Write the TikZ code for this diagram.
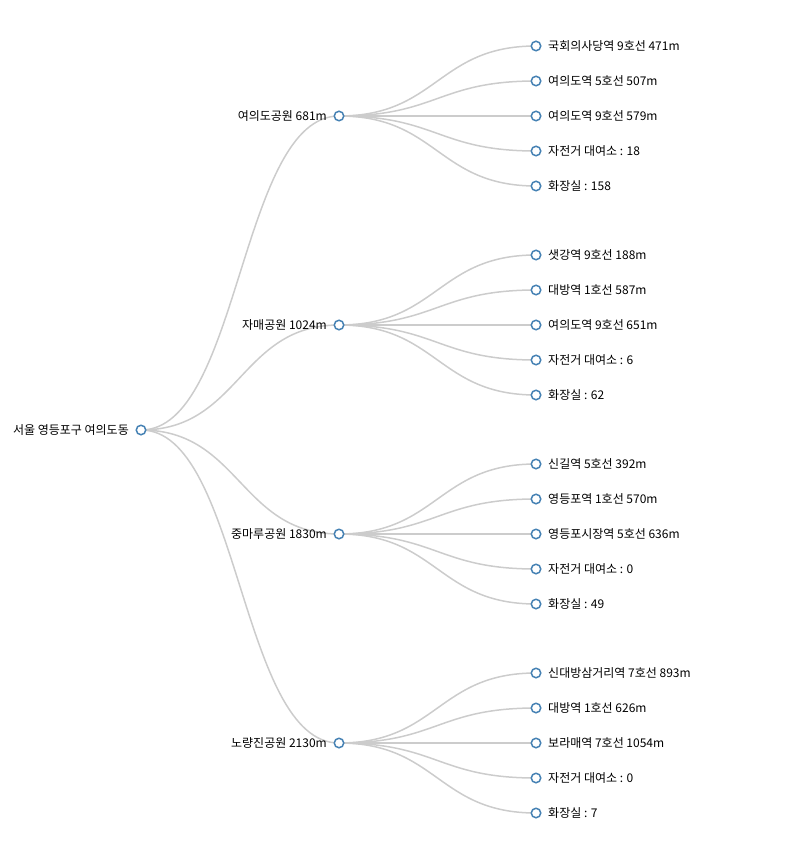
\documentclass[tikz,border=0pt]{standalone}
\usepackage{fontspec}
\setmainfont{Noto Sans CJK KR}
\usepackage{tikz}
\usetikzlibrary{positioning, calc}
\pgfdeclarelayer{background}
\pgfsetlayers{background,main}
\definecolor{steel}{HTML}{4682B4}
\definecolor{linkgray}{HTML}{CCCCCC}
\newcommand{\Link}[2]{%
  \draw[link] let \p1=(#1.center), \p2=(#2.center) in
    (\p1) .. controls ({(\x1+\x2)/2},\y1) and ({(\x1+\x2)/2},\y2) .. (\p2);}
\tikzset{
    dot/.style={circle, draw=steel, fill=white, line width=1.5pt, minimum size=9.5pt, inner sep=0pt},
    link/.style={draw=linkgray, line width=1.5pt},
    every label/.append style={font=\fontsize{12}{14}\selectfont, inner sep=0pt},
}
\begin{document}
\begin{tikzpicture}[x=1pt, y=-1pt]
    \tikzset{
      node distance=35pt,
      on grid,
      label distance=6.5pt
    }
    \useasboundingbox (0,0) rectangle (801,850);

    \node[dot, label=left:서울 영등포구 여의도동] (r) at (141,430) {};

    \node[dot, label=left:여의도공원 681m] (a0) at (339,116) {};
    \node[dot, right=197pt of a0, label=right:여의도역 9호선 579m] (a3) {};
    \node[dot, above=of a3, label=right:여의도역 5호선 507m] (a2) {};
    \node[dot, above=of a2, label=right:국회의사당역 9호선 471m] (a1) {};
    \node[dot, below=of a3, label={right:{자전거 대여소 : 18}}] (a4) {};
    \node[dot, below=of a4, label={right:{화장실 : 158}}] (a5) {};

    \node[dot, label=left:자매공원 1024m] (b0) at (339,325) {};
    \node[dot, right=197pt of b0, label=right:여의도역 9호선 651m] (b3) {};
    \node[dot, above=of b3, label=right:대방역 1호선 587m] (b2) {};
    \node[dot, above=of b2, label=right:샛강역 9호선 188m] (b1) {};
    \node[dot, below=of b3, label={right:{자전거 대여소 : 6}}] (b4) {};
    \node[dot, below=of b4, label={right:{화장실 : 62}}] (b5) {};

    \node[dot, label=left:중마루공원 1830m] (c0) at (339,534) {};
    \node[dot, right=197pt of c0, label=right:영등포시장역 5호선 636m] (c3) {};
    \node[dot, above=of c3, label=right:영등포역 1호선 570m] (c2) {};
    \node[dot, above=of c2, label=right:신길역 5호선 392m] (c1) {};
    \node[dot, below=of c3, label={right:{자전거 대여소 : 0}}] (c4) {};
    \node[dot, below=of c4, label={right:{화장실 : 49}}] (c5) {};

    \node[dot, label=left:노량진공원 2130m] (d0) at (339,743) {};
    \node[dot, right=197pt of d0, label=right:보라매역 7호선 1054m] (d3) {};
    \node[dot, above=of d3, label=right:대방역 1호선 626m] (d2) {};
    \node[dot, above=of d2, label=right:신대방삼거리역 7호선 893m] (d1) {};
    \node[dot, below=of d3, label={right:{자전거 대여소 : 0}}] (d4) {};
    \node[dot, below=of d4, label={right:{화장실 : 7}}] (d5) {};

    \begin{pgfonlayer}{background}
      \Link{r}{a0} \Link{r}{b0} \Link{r}{c0} \Link{r}{d0}
      \Link{a0}{a1} \Link{a0}{a2} \Link{a0}{a3} \Link{a0}{a4} \Link{a0}{a5}
      \Link{b0}{b1} \Link{b0}{b2} \Link{b0}{b3} \Link{b0}{b4} \Link{b0}{b5}
      \Link{c0}{c1} \Link{c0}{c2} \Link{c0}{c3} \Link{c0}{c4} \Link{c0}{c5}
      \Link{d0}{d1} \Link{d0}{d2} \Link{d0}{d3} \Link{d0}{d4} \Link{d0}{d5}
    \end{pgfonlayer}
\end{tikzpicture}
\end{document}
